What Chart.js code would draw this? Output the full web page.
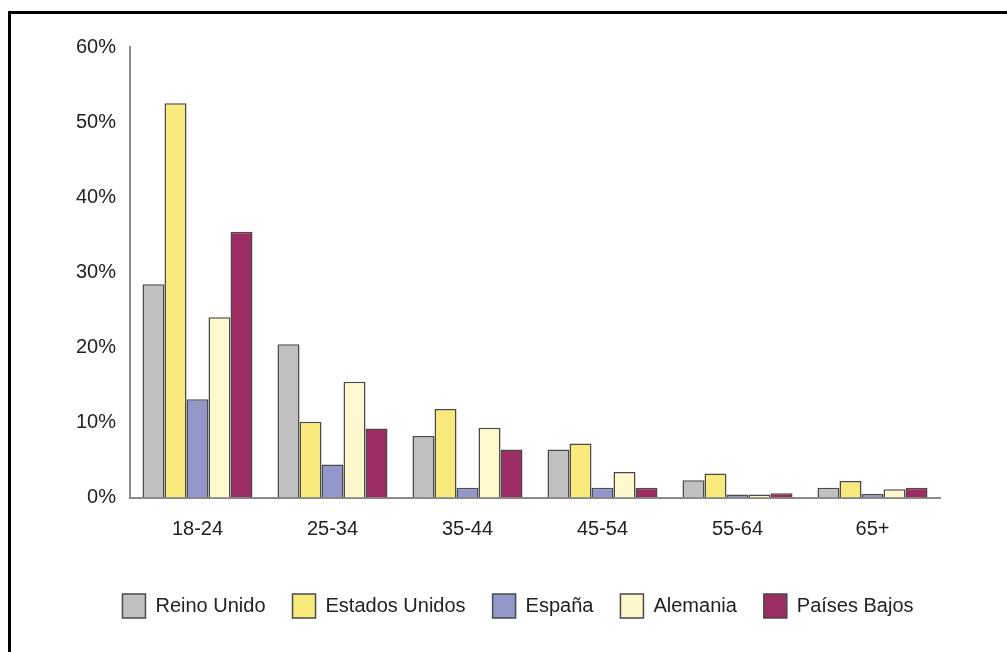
<!DOCTYPE html>
<html>
<head>
<meta charset="utf-8">
<script src="https://cdn.jsdelivr.net/npm/chart.js@4/dist/chart.umd.min.js"></script>
<style>
    html, body { margin: 0; padding: 0; background: #fff; overflow: hidden; }
    #marco {
        position: absolute; left: 8px; top: 11px;
        width: 1010px; height: 660px;
        border: 3px solid #000; box-sizing: border-box;
    }
    #contenedor { position: absolute; left: 0; top: 0; width: 1007px; height: 652px; }
</style>
</head>
<body>
<div id="marco"></div>
<div id="contenedor"><canvas id="edades-chart"></canvas></div>
<script>
// Grupos de edad
var edades = ['18-24', '25-34', '35-44', '45-54', '55-64', '65+'];

// Porcentaje por país y grupo de edad
var reinoUnido    = [28.4, 20.4, 8.2, 6.4, 2.3, 1.3];
var estadosUnidos = [52.5, 10.1, 11.8, 7.2, 3.2, 2.2];
var espana        = [13.1, 4.4, 1.3, 1.3, 0.4, 0.45];
var alemania      = [24.0, 15.4, 9.3, 3.4, 0.4, 1.1];
var paisesBajos   = [35.4, 9.2, 6.4, 1.3, 0.55, 1.3];

var fuente = "'Liberation Sans', Arial, Helvetica, sans-serif";

function serie(nombre, datos, color) {
    return {
        label: nombre,
        data: datos,
        backgroundColor: color,
        borderColor: '#4a4a4a',
        borderWidth: 1.5,
        barPercentage: 1,
        categoryPercentage: 0.815
    };
}

// desplaza la leyenda hacia la derecha
var moverLeyenda = {
    id: 'moverLeyenda',
    afterLayout: function (chart) {
        chart.legend.left += 48;
        chart.legend.right += 48;
    }
};

var ctx = document.getElementById('edades-chart').getContext('2d');
new Chart(ctx, {
    type: 'bar',
    data: {
        labels: edades,
        datasets: [
            serie('Reino Unido', reinoUnido, '#C0C0C0'),
            serie('Estados Unidos', estadosUnidos, '#F8EA7C'),
            serie('España', espana, '#9396C9'),
            serie('Alemania', alemania, '#FFF8CC'),
            serie('Países Bajos', paisesBajos, '#9B2D62')
        ]
    },
    options: {
        responsive: true,
        maintainAspectRatio: false,
        animation: false,
        layout: {
            padding: { left: 0, right: 67, top: 47, bottom: 24 }
        },
        scales: {
            x: {
                grid: { display: false },
                border: { display: true, color: '#8a8a8a', width: 2 },
                ticks: {
                    color: '#222',
                    padding: 11.5,
                    font: { family: fuente, size: 20 }
                },
                afterFit: function (scale) { scale.height = 69.5; }
            },
            y: {
                min: 0,
                max: 60,
                grid: { display: false },
                border: { display: true, color: '#8a8a8a', width: 2 },
                ticks: {
                    stepSize: 10,
                    color: '#222',
                    padding: 6,
                    font: { family: fuente, size: 20 },
                    callback: function (v) { return v + '%'; }
                },
                afterFit: function (scale) { scale.width = 130; }
            }
        },
        plugins: {
            tooltip: { enabled: false },
            legend: {
                position: 'bottom',
                labels: {
                    boxWidth: 23,
                    boxHeight: 24,
                    padding: 27,
                    color: '#222',
                    font: { family: fuente, size: 20 }
                }
            }
        }
    },
    plugins: [moverLeyenda]
});
</script>
</body>
</html>
